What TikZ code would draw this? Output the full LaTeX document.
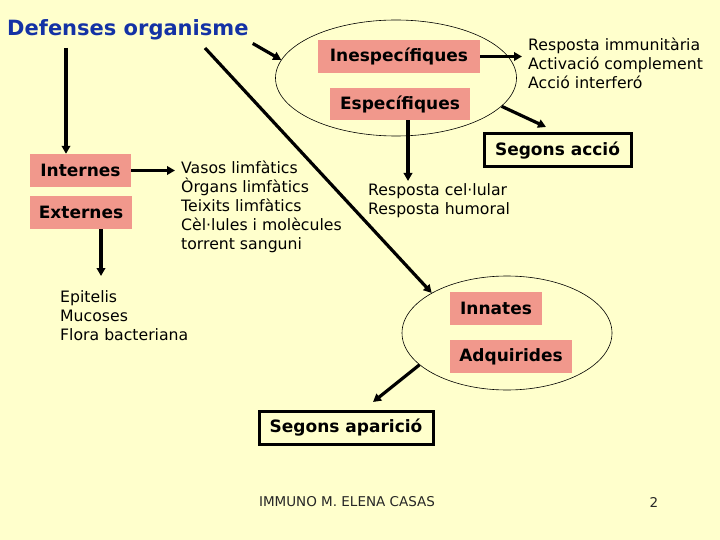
\documentclass[tikz,border=0pt]{standalone}
\usepackage{fontspec}
\setmainfont{DejaVu Sans}
\usetikzlibrary{arrows.meta,shapes.geometric}
\definecolor{bgc}{RGB}{255,255,204}
\definecolor{pinkc}{RGB}{241,152,140}
\definecolor{titlec}{RGB}{20,50,165}
\begin{document}
\begin{tikzpicture}[x=1pt,y=-1pt,
  lab/.style={fill=pinkc, font=\bfseries\fontsize{17}{20}\selectfont, minimum height=33pt, inner sep=0pt},
  lst/.style={align=left, anchor=north west, inner sep=0pt, font=\fontsize{15.7}{19}\selectfont},
  outbox/.style={draw, line width=3pt, font=\bfseries\fontsize{17}{20}\selectfont, minimum height=33pt, inner sep=0pt},
  arr/.style={line width=3.2pt, -{Triangle[length=8pt,width=8.5pt]}},
  ell/.style={ellipse, draw, line width=0.6pt, inner sep=0pt}]
\fill[bgc] (0,0) rectangle (720,540);
\useasboundingbox (0,0) rectangle (720,540);

% ellipses
\node[ell, minimum width=241pt, minimum height=116pt] (eTop) at (396,78) {};
\node[ell, minimum width=210pt, minimum height=114pt] (eBot) at (507,333) {};

% title
\node[anchor=west, inner sep=0pt, text=titlec, font=\bfseries\fontsize{21}{24}\selectfont] (title) at (7,30) {Defenses organisme};

% pink labels
\node[lab, minimum width=101pt] (int) at (80.5,170.5) {Internes};
\node[lab, minimum width=102pt] (ext) at (81,212.5) {Externes};
\node[lab, minimum width=162pt] (ines) at (399,56.5) {Inespecífiques};
\node[lab, minimum width=140pt, minimum height=32pt] (esp) at (400,104) {Específiques};
\node[lab, minimum width=92pt] (inn) at (496,308.5) {Innates};
\node[lab, minimum width=122pt] (adq) at (511,356.5) {Adquirides};

% framed labels
\node[outbox, minimum width=147pt] (sacc) at (557.5,150.5) {Segons acció};
\node[outbox, minimum width=174pt] (sapa) at (346,427.5) {Segons aparició};

% lists
\node[lst] (lvas) at (181,161) {Vasos limfàtics\\Òrgans limfàtics\\Teixits limfàtics\\Cèl·lules i molècules\\torrent sanguni};
\node[lst] (limm) at (528,38) {Resposta immunitària\\Activació complement\\Acció interferó};
\node[lst] (lcel) at (368,183) {Resposta cel·lular\\Resposta humoral};
\node[lst] (lepi) at (60,290) {Epitelis\\Mucoses\\Flora bacteriana};

% footer
\node[inner sep=0pt, font=\fontsize{13.5}{16}\selectfont, text=black!85] (foot) at (347,502) {IMMUNO M. ELENA CASAS};
\node[inner sep=0pt, font=\fontsize{13.5}{16}\selectfont, text=black!85] (pg) at (654,502) {2};

% connectors
\coordinate (d0) at (205,48);
\draw[arr] (66,48) coordinate (t0) -- (int.north -| t0);
\draw[arr] (title.south east) ++(4,3) -- (eTop.171);
\draw[arr] (d0) -- (eBot.152);
\draw[arr] (int.east) -- ([xshift=-6pt]lvas.west |- int.east);
\draw[arr] (ext.south -| 101,0) coordinate (x0) -- (101,276);
\draw[arr] (ines.east) -- ([xshift=-6pt]limm.west |- ines.east);
\draw[arr] (esp.south -| 408,0) -- (408,181);
\draw[arr] (eTop.-15) -- (546,127);
\draw[arr] (eBot.200) -- (373,402);
\end{tikzpicture}
\end{document}
